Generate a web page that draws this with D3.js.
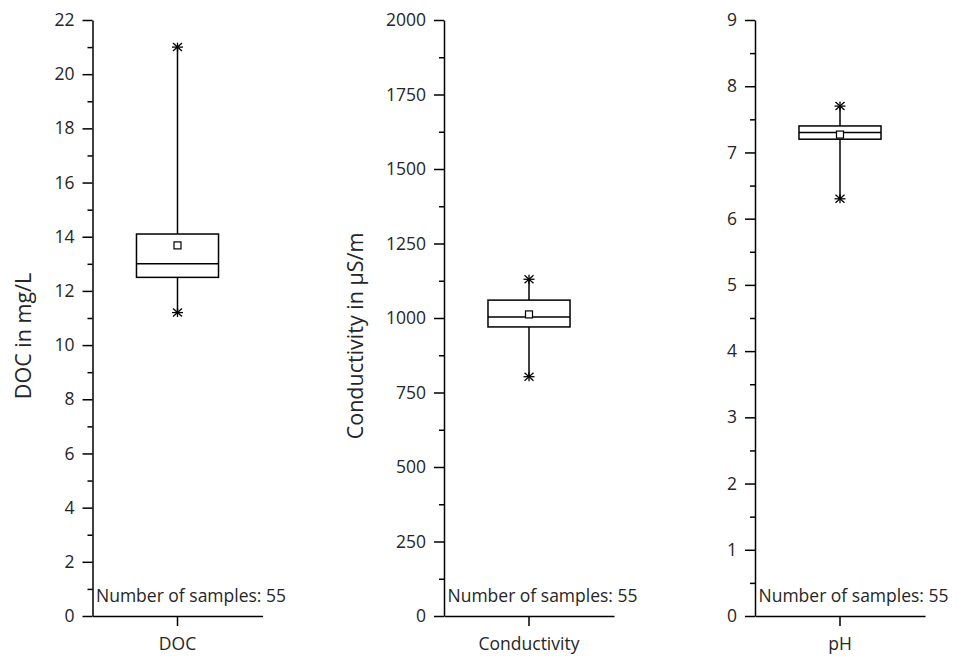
<!DOCTYPE html>
<html>
<head>
<meta charset="utf-8">
<script src="https://cdn.jsdelivr.net/npm/d3@7/dist/d3.min.js"></script>
<style>
  html, body { margin: 0; padding: 0; background: #fff; }
  svg { display: block; font-family: "Open Sans", "Noto Sans", sans-serif; }
  .tick text { fill: #262626; }
</style>
</head>
<body>
<svg id="chart" width="958" height="660"></svg>
<script>
// Box-plot summary per parameter
const categories   = ["DOC", "Conductivity", "pH"];
const axisTitles   = ["DOC in mg/L", "Conductivity in \u00B5S/m", ""];
const whiskerLow   = [11.2, 803, 6.3];
const q1           = [12.5, 970, 7.2];
const median       = [13.0, 1003, 7.3];
const q3           = [14.1, 1060, 7.4];
const whiskerHigh  = [21.0, 1130, 7.7];
const mean         = [13.68, 1012, 7.27];
const sampleCounts = [55, 55, 55];

// Axis tick labels
const docTicks  = [0, 2, 4, 6, 8, 10, 12, 14, 16, 18, 20, 22];
const condTicks = [0, 250, 500, 750, 1000, 1250, 1500, 1750, 2000];
const phTicks   = [0, 1, 2, 3, 4, 5, 6, 7, 8, 9];
const docMinor  = [1, 3, 5, 7, 9, 11, 13, 15, 17, 19, 21];
const condMinor = [125, 375, 625, 875, 1125, 1375, 1625, 1875];
const phMinor   = [0.5, 1.5, 2.5, 3.5, 4.5, 5.5, 6.5, 7.5, 8.5];

const majorTicks = [docTicks, condTicks, phTicks];
const minorTicks = [docMinor, condMinor, phMinor];

const svg = d3.select("#chart");
const plotTop = 20, plotBottom = 616, panelWidth = 170;
const panelLeft = [92.5, 444, 755];
const titleGap = [61.5, 81.5, 0];
const tickFont = "17.5px", titleFont = "21.5px";

categories.forEach((cat, i) => {
  const x0 = panelLeft[i];
  const ticks = majorTicks[i];
  const y = d3.scaleLinear()
    .domain([0, ticks[ticks.length - 1]])
    .range([plotBottom, plotTop]);
  const x = d3.scaleBand()
    .domain([cat])
    .range([x0, x0 + panelWidth])
    .padding(0.349);
  const cx = x(cat) + x.bandwidth() / 2;
  const g = svg.append("g");

  // minor ticks
  g.append("g")
    .attr("transform", `translate(${x0},0)`)
    .call(d3.axisLeft(y).tickValues(minorTicks[i]).tickSize(5).tickSizeOuter(0).tickFormat(""))
    .call(a => a.select(".domain").remove())
    .call(a => a.selectAll("line").attr("stroke", "#000").attr("stroke-width", 1.5));

  // y axis
  g.append("g")
    .attr("transform", `translate(${x0},0)`)
    .call(d3.axisLeft(y).tickValues(ticks).tickSize(10).tickSizeOuter(0).tickPadding(8).tickFormat(d3.format("d")))
    .call(a => a.select(".domain").attr("stroke", "#000").attr("stroke-width", 1.5))
    .call(a => a.selectAll("line").attr("stroke", "#000").attr("stroke-width", 1.5))
    .call(a => a.selectAll("text").style("font-size", tickFont).style("font-family", "Open Sans"));

  // x axis
  g.append("g")
    .attr("transform", `translate(0,${plotBottom})`)
    .call(d3.axisBottom(x).tickSize(10).tickSizeOuter(0).tickPadding(12))
    .call(a => a.select(".domain").attr("stroke", "#000").attr("stroke-width", 1.5))
    .call(a => a.selectAll("line").attr("stroke", "#000").attr("stroke-width", 1.5))
    .call(a => a.selectAll("text").style("font-size", tickFont).style("font-family", "Open Sans"));

  // y axis title
  if (axisTitles[i]) {
    g.append("text")
      .attr("transform", `translate(${x0 - titleGap[i]},336) rotate(-90)`)
      .attr("text-anchor", "middle")
      .attr("fill", "#262626")
      .style("font-size", titleFont)
      .text(axisTitles[i]);
  }

  // whisker
  g.append("line")
    .attr("x1", cx).attr("x2", cx)
    .attr("y1", y(whiskerLow[i])).attr("y2", y(whiskerHigh[i]))
    .attr("stroke", "#000").attr("stroke-width", 1.5);

  // box
  g.append("rect")
    .attr("x", x(cat)).attr("width", x.bandwidth())
    .attr("y", y(q3[i])).attr("height", y(q1[i]) - y(q3[i]))
    .attr("fill", "#fff").attr("stroke", "#000").attr("stroke-width", 1.5);

  // median
  g.append("line")
    .attr("x1", x(cat)).attr("x2", x(cat) + x.bandwidth())
    .attr("y1", y(median[i])).attr("y2", y(median[i]))
    .attr("stroke", "#000").attr("stroke-width", 1.5);

  // mean marker
  g.append("rect")
    .attr("x", cx - 3.5).attr("y", y(mean[i]) - 3.5)
    .attr("width", 7).attr("height", 7)
    .attr("fill", "#fff").attr("stroke", "#000").attr("stroke-width", 1.2);

  // asterisk markers at whisker ends
  [whiskerLow[i], whiskerHigh[i]].forEach(v => {
    const yy = y(v);
    const star = g.append("g").attr("transform", `translate(${cx},${yy})`)
      .attr("stroke", "#000").attr("stroke-width", 1.3);
    star.append("line").attr("x1", -5.5).attr("x2", 5.5).attr("y1", 0).attr("y2", 0);
    star.append("line").attr("x1", -4.5).attr("x2", 4.5).attr("y1", -4).attr("y2", 4);
    star.append("line").attr("x1", -4.5).attr("x2", 4.5).attr("y1", 4).attr("y2", -4);
    star.append("line").attr("x1", 0).attr("x2", 0).attr("y1", -4.5).attr("y2", 4.5);
  });

  // sample count note
  g.append("text")
    .attr("x", x0 + 3.5).attr("y", 602)
    .attr("fill", "#262626")
    .style("font-size", tickFont)
    .text(`Number of samples: ${sampleCounts[i]}`);
});
</script>
</body>
</html>
